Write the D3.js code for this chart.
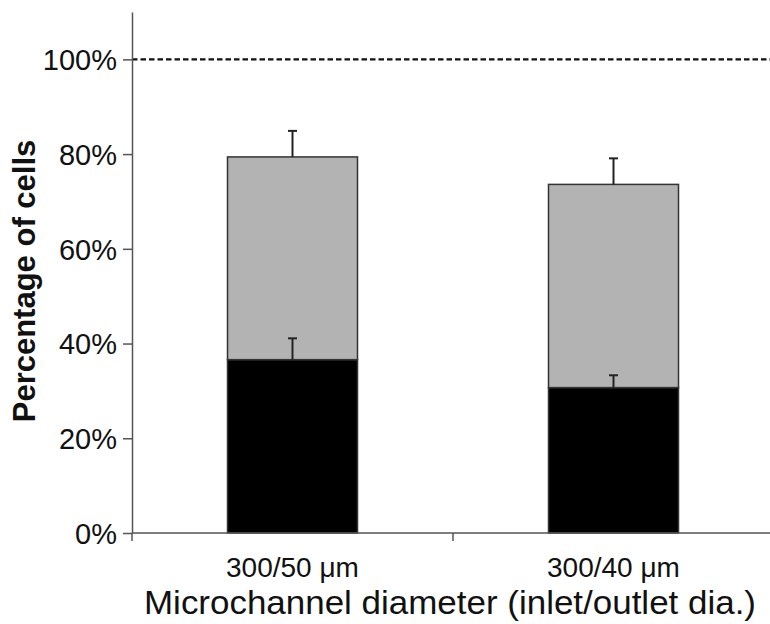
<!DOCTYPE html>
<html>
<head>
<meta charset="utf-8">
<script src="https://cdn.jsdelivr.net/npm/d3@7"></script>
<style>
  body { margin: 0; background: #fff; }
  text { font-family: "Liberation Sans", Arial, sans-serif; fill: #111; }
</style>
</head>
<body>
<div id="chart"></div>
<script>
// data
const categories = ["300/50 \u03bcm", "300/40 \u03bcm"];
const blackVals = [36.6, 30.7];   // lower (black) part, %
const greyVals = [42.8, 42.9];    // upper (grey) part, %
const blackErr = [4.5, 2.6];
const greyErr = [5.5, 5.5];
const yTicks = [0, 20, 40, 60, 80, 100];
const refLine = 100;

const W = 770, H = 624;
const m = { left: 132, top: 12, bottom: 533, right: 774 };

const svg = d3.select("#chart").append("svg")
    .attr("width", W)
    .attr("height", H);

const x = d3.scaleBand()
    .domain(categories)
    .range([m.left, m.right])
    .padding(0);

const y = d3.scaleLinear()
    .domain([0, 110])
    .range([m.bottom, m.top]);

const barW = x.bandwidth() * 0.405;

const rows = categories.map((c, i) => ({ cat: c, black: blackVals[i], grey: greyVals[i] }));
const stack = d3.stack().keys(["black", "grey"]);
const series = stack(rows);
const errs = { black: blackErr, grey: greyErr };
const fills = { black: "#000000", grey: "#b3b3b3" };

// reference line at 100%
svg.append("line")
    .attr("x1", m.left).attr("x2", W)
    .attr("y1", y(refLine)).attr("y2", y(refLine))
    .attr("stroke", "#111")
    .attr("stroke-width", 2.2)
    .attr("stroke-dasharray", "5.5,3");

// bars
series.forEach(s => {
    svg.append("g").attr("class", "bars-" + s.key)
        .selectAll("rect")
        .data(s)
        .enter()
        .append("rect")
        .attr("x", d => x(d.data.cat) + (x.bandwidth() - barW) / 2)
        .attr("y", d => y(d[1]))
        .attr("width", barW)
        .attr("height", d => y(d[0]) - y(d[1]))
        .attr("fill", fills[s.key])
        .attr("stroke", "#333")
        .attr("stroke-width", 1.5);
});

// error bars (upward only)
series.forEach(s => {
    const g = svg.append("g").attr("class", "err-" + s.key);
    s.forEach((d, i) => {
        const cx = x(d.data.cat) + x.bandwidth() / 2;
        const top = y(d[1] + errs[s.key][i]);
        g.append("line")
            .attr("x1", cx).attr("x2", cx)
            .attr("y1", y(d[1])).attr("y2", top)
            .attr("stroke", "#222").attr("stroke-width", 2);
        g.append("line")
            .attr("x1", cx - 4.5).attr("x2", cx + 4.5)
            .attr("y1", top).attr("y2", top)
            .attr("stroke", "#222").attr("stroke-width", 2);
    });
});

// y axis
const yAxis = svg.append("g")
    .attr("transform", `translate(${m.left},0)`)
    .call(d3.axisLeft(y).tickValues(yTicks).tickFormat(d => d + "%").tickSize(9).tickSizeOuter(0).tickPadding(6));
yAxis.select(".domain").attr("stroke", "#555").attr("stroke-width", 1.5);
yAxis.selectAll(".tick line").attr("stroke", "#555").attr("stroke-width", 1.5);
yAxis.selectAll(".tick text")
    .attr("font-size", 29)
    .attr("font-family", "Liberation Sans, Arial, sans-serif")
    .attr("fill", "#111")
    .attr("dy", "0.36em");

// x axis line + boundary ticks
svg.append("line")
    .attr("x1", m.left).attr("x2", W)
    .attr("y1", m.bottom).attr("y2", m.bottom)
    .attr("stroke", "#555").attr("stroke-width", 1.5);
svg.append("g").selectAll("line")
    .data(categories)
    .enter()
    .append("line")
    .attr("x1", d => x(d)).attr("x2", d => x(d))
    .attr("y1", m.bottom).attr("y2", m.bottom + 8)
    .attr("stroke", "#555").attr("stroke-width", 1.5);

// category labels
svg.append("g").selectAll("text")
    .data(categories)
    .enter()
    .append("text")
    .attr("x", d => x(d) + x.bandwidth() / 2)
    .attr("y", 577)
    .attr("text-anchor", "middle")
    .attr("font-size", 28)
    .text(d => d);

// axis titles
svg.append("text")
    .attr("x", 450)
    .attr("y", 614)
    .attr("text-anchor", "middle")
    .attr("font-size", 33)
    .attr("textLength", 612)
    .attr("lengthAdjust", "spacingAndGlyphs")
    .text("Microchannel diameter (inlet/outlet dia.)");

svg.append("text")
    .attr("transform", "translate(35,281) rotate(-90)")
    .attr("text-anchor", "middle")
    .attr("font-size", 31)
    .attr("font-weight", "bold")
    .text("Percentage of cells");
</script>
</body>
</html>
